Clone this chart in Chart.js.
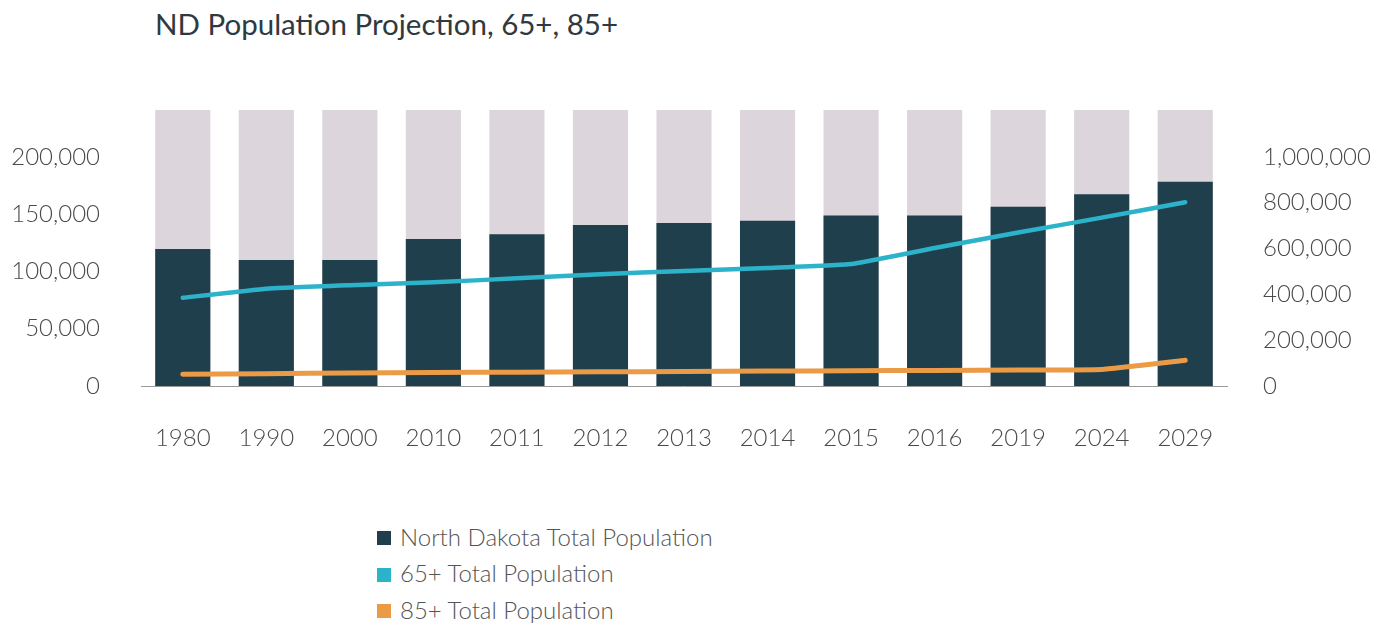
<!DOCTYPE html>
<html>
<head>
<meta charset="utf-8">
<script src="https://cdn.jsdelivr.net/npm/chart.js@4/dist/chart.umd.min.js"></script>
<style>
  html, body { margin: 0; padding: 0; background: #ffffff; }
  #wrap { position: relative; width: 1392px; height: 635px; overflow: hidden; }
  #title { position: absolute; left: 155px; top: 5px; font-family: Lato, "Open Sans", sans-serif; font-size: 29.5px; line-height: 38px; color: #2f3a40; white-space: nowrap; }
  #chart { position: absolute; left: 0; top: 0; }
  #legend { position: absolute; left: 377px; top: 518px; font-family: Lato, "Open Sans", sans-serif; font-weight: 300; font-size: 24px; color: #555; }
  #legend ul { list-style: none; margin: 0; padding: 0; }
  #legend li { display: flex; align-items: center; height: 36.5px; white-space: nowrap; }
  #legend .box { display: inline-block; width: 14px; height: 14px; margin-right: 9px; margin-top: 4px; }
</style>
</head>
<body>
<div id="wrap">
  <div id="title">ND Population Projection, 65+, 85+</div>
  <canvas id="chart" width="1392" height="452"></canvas>
  <div id="legend"></div>
</div>
<script>
// ---- data ----
const categories = ['1980','1990','2000','2010','2011','2012','2013','2014','2015','2016','2019','2024','2029'];
const ndTotalPopulation = [598000, 550000, 550000, 642000, 662000, 703000, 712000, 722000, 744000, 744000, 783000, 837000, 892000];
const pop65Plus = [77000, 85000, 88000, 90500, 94000, 97500, 100500, 103000, 106500, 120500, 134000, 147000, 160500];
const pop85Plus = [10200, 10800, 11300, 11800, 12100, 12400, 12700, 13000, 13300, 13600, 14000, 14500, 22500];
const backgroundBar = [1205000, 1205000, 1205000, 1205000, 1205000, 1205000, 1205000, 1205000, 1205000, 1205000, 1205000, 1205000, 1205000];
const leftTicks = [0, 50000, 100000, 150000, 200000];
const rightTicks = [0, 200000, 400000, 600000, 800000, 1000000];
const seriesNames = ['North Dakota Total Population', '65+ Total Population', '85+ Total Population'];

const C_DARK = '#1f3f4d', C_GRAY = '#dcd5db', C_TEAL = '#2db3c9', C_ORANGE = '#eb9a45';
const tickFont = { family: 'Lato, "Open Sans", sans-serif', size: 24, weight: '300' };
const fmt = v => Number(v).toLocaleString('en-US');

const htmlLegend = {
  id: 'htmlLegend',
  afterUpdate(chart) {
    const el = document.getElementById('legend');
    const items = chart.options.plugins.legend.labels.generateLabels(chart)
      .filter(it => seriesNames.includes(it.text))
      .sort((a, b) => seriesNames.indexOf(a.text) - seriesNames.indexOf(b.text));
    const ul = document.createElement('ul');
    items.forEach(it => {
      const li = document.createElement('li');
      const box = document.createElement('span');
      box.className = 'box';
      box.style.background = it.fillStyle;
      const txt = document.createElement('span');
      txt.textContent = it.text;
      li.appendChild(box); li.appendChild(txt);
      ul.appendChild(li);
    });
    el.innerHTML = '';
    el.appendChild(ul);
  }
};

new Chart(document.getElementById('chart'), {
  type: 'bar',
  data: {
    labels: categories,
    datasets: [
      { type: 'line', label: seriesNames[1], data: pop65Plus, yAxisID: 'y', borderColor: C_TEAL, backgroundColor: C_TEAL, borderWidth: 4.5, pointRadius: 0, tension: 0.1, borderCapStyle: 'round', order: 0 },
      { type: 'line', label: seriesNames[2], data: pop85Plus, yAxisID: 'y', borderColor: C_ORANGE, backgroundColor: C_ORANGE, borderWidth: 5, pointRadius: 0, tension: 0.1, borderCapStyle: 'round', order: 0 },
      { type: 'bar', label: seriesNames[0], data: ndTotalPopulation, yAxisID: 'y1', backgroundColor: C_DARK, grouped: false, barPercentage: 0.66, categoryPercentage: 1.0, order: 1 },
      { type: 'bar', label: '', data: backgroundBar, yAxisID: 'y1', backgroundColor: C_GRAY, grouped: false, barPercentage: 0.66, categoryPercentage: 1.0, order: 2 }
    ]
  },
  options: {
    responsive: false,
    animation: false,
    layout: { padding: { top: 110, left: 10, right: 0, bottom: 0 } },
    plugins: {
      legend: { display: false },
      title: { display: false },
      tooltip: { enabled: false }
    },
    scales: {
      x: {
        offset: true,
        grid: { display: false, drawTicks: false },
        border: { display: true, color: '#9a9a9a', width: 1 },
        ticks: { font: tickFont, color: '#4a4a4a', padding: 38, maxRotation: 0, autoSkip: false },
        afterFit(axis) { axis.height = 66; }
      },
      y: {
        position: 'left',
        min: 0, max: 241000,
        grid: { display: false, drawTicks: false },
        border: { display: false },
        ticks: { font: tickFont, color: '#4a4a4a', padding: 41, callback: fmt },
        afterBuildTicks(axis) { axis.ticks = leftTicks.map(v => ({ value: v })); },
        afterFit(axis) { axis.width = 131; }
      },
      y1: {
        position: 'right',
        min: 0, max: 1205000,
        grid: { display: false, drawTicks: false },
        border: { display: false },
        ticks: { font: tickFont, color: '#4a4a4a', padding: 36, callback: fmt },
        afterBuildTicks(axis) { axis.ticks = rightTicks.map(v => ({ value: v })); },
        afterFit(axis) { axis.width = 165; }
      }
    }
  },
  plugins: [htmlLegend]
});
</script>
</body>
</html>
